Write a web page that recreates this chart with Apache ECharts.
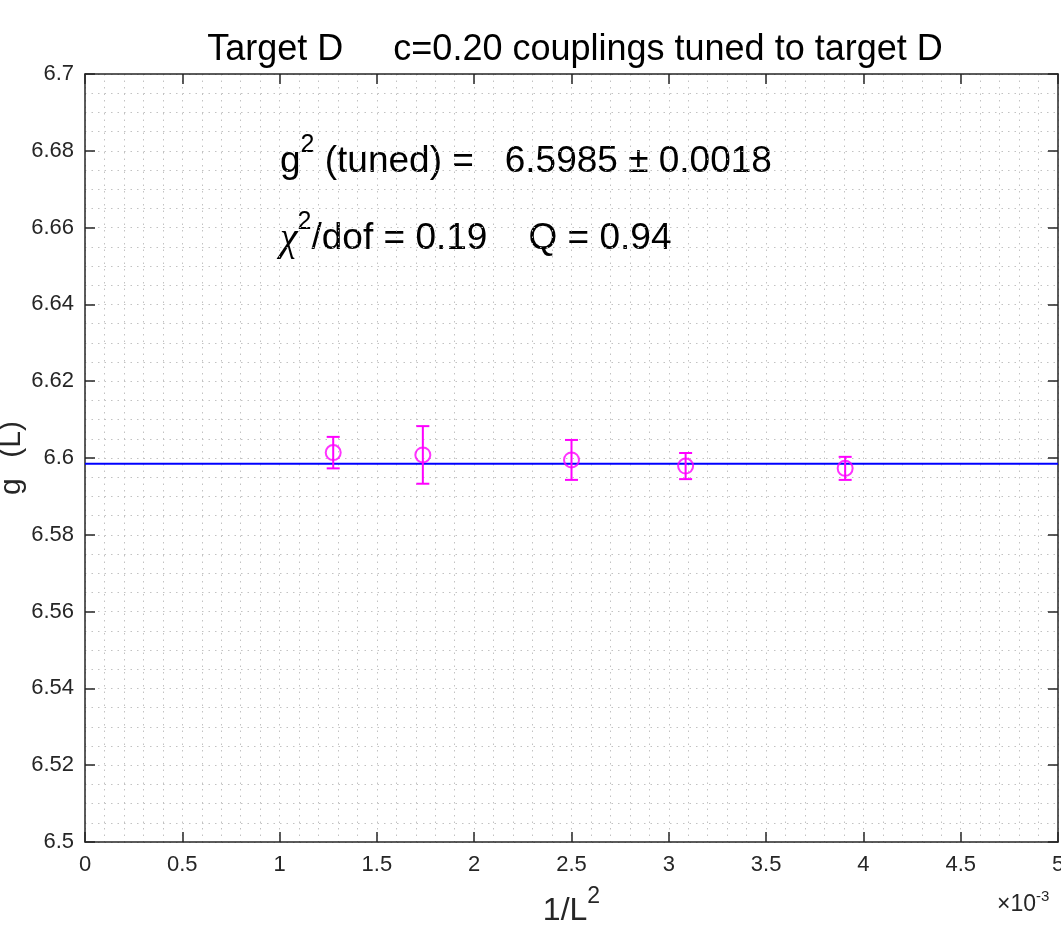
<!DOCTYPE html>
<html>
<head>
<meta charset="utf-8">
<script src="https://cdn.jsdelivr.net/npm/echarts@6/dist/echarts.min.js"></script>
<style>
html, body { margin: 0; padding: 0; background: #fff; }
#chart { width: 1061px; height: 927px; }
</style>
</head>
<body>
<div id="chart"></div>
<script>
// 1/L^2 in units of 1e-3 (L = 28, 24, 20, 18, 16)
var invL2 = [1.2755, 1.7361, 2.5, 3.0864, 3.9063];
var g2 = [6.6014, 6.6008, 6.5995, 6.5979, 6.5973];
var g2Err = [0.0041, 0.0075, 0.0052, 0.0034, 0.0030];
var fitValue = 6.5985;
var fitRange = [0, 5];
var xRange = [0, 5], xStep = 0.5;
var yRange = [6.5, 6.7], yStep = 0.02;

var AXIS = '#262626';
var MAG = '#ff00ff';
var FONT = 'Liberation Sans, Arial, Helvetica, sans-serif';

var pts = invL2.map(function (x, i) { return [x, g2[i], g2Err[i]]; });
var fitLine = fitRange.map(function (x) { return [x, fitValue]; });

var dotted = { color: '#c2c2c2', width: 1, type: [1.5, 5] };

function mainAxis(pos, range, step, minorSplit) {
    return {
        type: 'value', position: pos, min: range[0], max: range[1], interval: step,
        axisLine: { show: true, onZero: false, lineStyle: { color: AXIS, width: 1.5 } },
        axisTick: { show: true, inside: true, length: 10, lineStyle: { color: AXIS, width: 1.5 } },
        axisLabel: { color: AXIS, fontSize: 22, fontFamily: FONT, margin: pos === 'bottom' ? 12 : 11 },
        splitLine: { show: true, lineStyle: dotted },
        minorTick: { show: false, splitNumber: minorSplit },
        minorSplitLine: { show: true, lineStyle: dotted }
    };
}
function mirrorAxis(pos, range, step) {
    return {
        type: 'value', position: pos, min: range[0], max: range[1], interval: step,
        axisLine: { show: true, onZero: false, lineStyle: { color: AXIS, width: 1.5 } },
        axisTick: { show: true, inside: true, length: 10, lineStyle: { color: AXIS, width: 1.5 } },
        axisLabel: { show: false },
        splitLine: { show: false }
    };
}

var xMain = mainAxis('bottom', xRange, xStep, 5);
xMain.name = '{m|1/L}{sup|2}';
xMain.nameLocation = 'middle';
xMain.nameGap = 43;
xMain.nameTextStyle = {
    fontSize: 32, fontFamily: FONT, color: AXIS,
    rich: {
        m: { fontSize: 32, fontFamily: FONT, color: AXIS, lineHeight: 52 },
        sup: { fontSize: 23, fontFamily: FONT, color: AXIS, lineHeight: 23, verticalAlign: 'top' }
    }
};

var yMain = mainAxis('left', yRange, yStep, 4);
yMain.name = '{m|g}{sup|2}{m| (L)}';
yMain.nameLocation = 'middle';
yMain.nameRotate = 90;
yMain.nameGap = 43;
yMain.nameMoveOverlap = false;
yMain.nameTextStyle = {
    fontSize: 30, fontFamily: FONT, color: AXIS,
    rich: {
        m: { fontSize: 30, fontFamily: FONT, color: AXIS, lineHeight: 60 },
        sup: { fontSize: 22, fontFamily: FONT, color: AXIS, lineHeight: 22, verticalAlign: 'top' }
    }
};

var supText = { fontSize: 25, fontFamily: FONT, fill: '#000', lineHeight: 25, verticalAlign: 'top' };
var bigText = { fontSize: 37, fontFamily: FONT, fill: '#000', lineHeight: 58 };

var option = {
    animation: false,
    backgroundColor: '#fff',
    grid: { left: 85, right: 3, top: 74, bottom: 85, containLabel: false, outerBoundsMode: 'none' },
    xAxis: [xMain, mirrorAxis('top', xRange, xStep)],
    yAxis: [yMain, mirrorAxis('right', yRange, yStep)],
    graphic: [
        {
            type: 'text', x: 575, y: 50,
            style: {
                text: 'Target D     c=0.20 couplings tuned to target D',
                fontSize: 36, fontFamily: FONT, fill: '#000',
                align: 'center', verticalAlign: 'middle'
            }
        },
        {
            type: 'text', x: 280, y: 162,
            style: {
                text: '{m|g}{sup|2}{m| (tuned) =   6.5985 ± 0.0018}',
                fontSize: 37, fontFamily: FONT, fill: '#000',
                align: 'left', verticalAlign: 'middle',
                rich: { m: bigText, sup: supText }
            }
        },
        {
            type: 'text', x: 280, y: 239,
            style: {
                text: '{chi|χ}{sup|2}{m|/dof = 0.19    Q = 0.94}',
                fontSize: 37, fontFamily: FONT, fill: '#000',
                align: 'left', verticalAlign: 'middle',
                rich: {
                    chi: { fontSize: 40, fontFamily: 'Liberation Serif, serif', fontStyle: 'italic', fill: '#000', lineHeight: 58 },
                    m: bigText,
                    sup: supText
                }
            }
        },
        {
            type: 'text', x: 997, y: 905,
            style: {
                text: '{m|×10}{sup|-3}',
                fontSize: 22, fontFamily: FONT, fill: AXIS,
                align: 'left', verticalAlign: 'middle',
                rich: {
                    m: { fontSize: 23, fontFamily: FONT, fill: AXIS, lineHeight: 32 },
                    sup: { fontSize: 15, fontFamily: FONT, fill: AXIS, lineHeight: 15, verticalAlign: 'top' }
                }
            }
        }
    ],
    series: [
        {
            name: 'fit', type: 'line', data: fitLine, symbol: 'none', z: 2,
            lineStyle: { color: '#0000ff', width: 2 }, silent: true
        },
        {
            name: 'errors', type: 'custom', data: pts, z: 3,
            renderItem: function (params, api) {
                var x = api.value(0), y = api.value(1), e = api.value(2);
                var top = api.coord([x, y + e]);
                var bot = api.coord([x, y - e]);
                var h = 6.5;
                var st = { stroke: MAG, lineWidth: 2 };
                return {
                    type: 'group',
                    children: [
                        { type: 'line', shape: { x1: top[0], y1: top[1], x2: bot[0], y2: bot[1] }, style: st },
                        { type: 'line', shape: { x1: top[0] - h, y1: top[1], x2: top[0] + h, y2: top[1] }, style: st },
                        { type: 'line', shape: { x1: bot[0] - h, y1: bot[1], x2: bot[0] + h, y2: bot[1] }, style: st }
                    ]
                };
            }
        },
        {
            name: 'g2', type: 'scatter', data: pts, z: 4,
            symbol: 'circle', symbolSize: 15,
            itemStyle: { color: 'rgba(0,0,0,0)', borderColor: MAG, borderWidth: 2 }
        }
    ]
};

var myChart = echarts.init(document.getElementById('chart'));
myChart.setOption(option);
</script>
</body>
</html>
